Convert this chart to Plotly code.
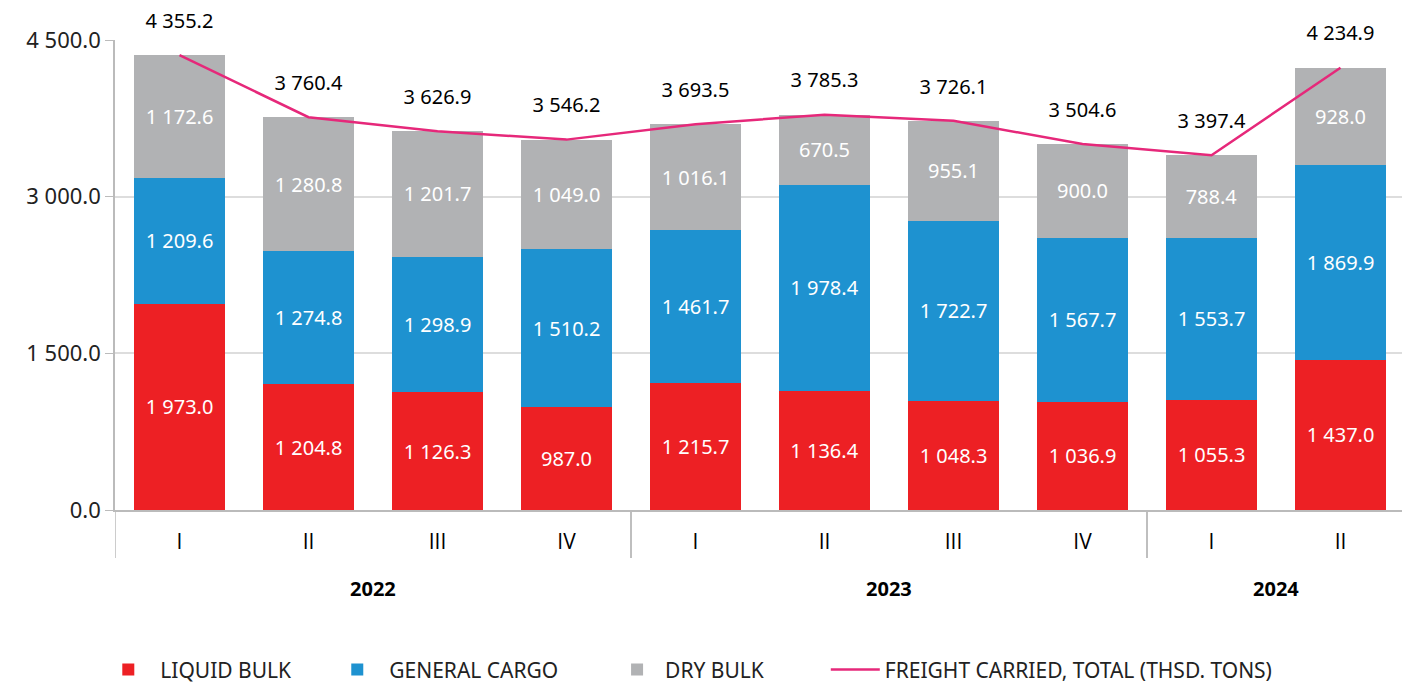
import plotly.graph_objects as go

years = ["2022", "2022", "2022", "2022", "2023", "2023", "2023", "2023", "2024", "2024"]
quarters = ["I", "II", "III", "IV", "I", "II", "III", "IV", "I", "II"]
liquid_bulk = [1973.0, 1204.8, 1126.3, 987.0, 1215.7, 1136.4, 1048.3, 1036.9, 1055.3, 1437.0]
general_cargo = [1209.6, 1274.8, 1298.9, 1510.2, 1461.7, 1978.4, 1722.7, 1567.7, 1553.7, 1869.9]
dry_bulk = [1172.6, 1280.8, 1201.7, 1049.0, 1016.1, 670.5, 955.1, 900.0, 788.4, 928.0]
total = [4355.2, 3760.4, 3626.9, 3546.2, 3693.5, 3785.3, 3726.1, 3504.6, 3397.4, 4234.9]
y_ticks = [0, 1500, 3000, 4500]

FONT = "Noto Sans"
TFONT = "Open Sans"
cats = [f"{y} {q}" for y, q in zip(years, quarters)]

fig = go.Figure()
series = [("LIQUID BULK", liquid_bulk, "#ED2024", "legend"),
          ("GENERAL CARGO", general_cargo, "#1E92D0", "legend2"),
          ("DRY BULK", dry_bulk, "#B1B2B4", "legend3")]
for name, vals, col, lg in series:
    fig.add_trace(go.Bar(
        x=cats, y=vals, name=name, legend=lg,
        marker=dict(color=col, line=dict(width=0)),
        texttemplate="%{y:,.1f}", textposition="inside", insidetextanchor="middle",
        textangle=0, constraintext="none",
        textfont=dict(color="white", size=20, family=FONT),
    ))

fig.add_trace(go.Scatter(
    x=cats, y=total, name="FREIGHT CARRIED, TOTAL (THSD. TONS)", mode="lines",
    legend="legend4", line=dict(color="#E6287A", width=2.5),
))
fig.add_trace(go.Scatter(
    x=cats, y=total, mode="markers+text", showlegend=False, hoverinfo="skip",
    marker=dict(size=34, color="rgba(0,0,0,0)"), cliponaxis=False,
    texttemplate="%{y:,.1f}", textposition="top center",
    textfont=dict(color="black", size=20, family=FONT),
))

# year group labels and dividers
groups = {}
for i, y in enumerate(years):
    groups.setdefault(y, []).append(i)
annotations = []
shapes = []
for y, idx in groups.items():
    annotations.append(dict(x=(idx[0] + idx[-1]) / 2, y=-0.167, xref="x", yref="paper",
                            text=f"<b>{y}</b>", showarrow=False, yanchor="middle",
                            font=dict(size=20, family=FONT, color="black")))
    for b in (idx[0] - 0.5, idx[-1] + 0.5):
        shapes.append(dict(type="line", xref="x", yref="paper", x0=b, x1=b, y0=0, y1=-0.102,
                           line=dict(color="#BBBBBB", width=1.5)))

leg_common = dict(orientation="h", yanchor="middle", y=-0.34, xanchor="left",
                  font=dict(size=21, color="#222222", family=FONT), bgcolor="rgba(0,0,0,0)")

# page body has an 8px default margin; figure sized to fit the window
fig.update_layout(
    width=1402, height=676,
    barmode="stack", bargap=0.29,
    separators=". ",
    plot_bgcolor="white", paper_bgcolor="white",
    margin=dict(l=107, r=5, t=32, b=174, autoexpand=False),
    font=dict(family=FONT, size=20, color="black"),
    showlegend=True,
    legend=dict(leg_common, x=-0.0145, itemwidth=54),
    legend2=dict(leg_common, x=0.163, itemwidth=54),
    legend3=dict(leg_common, x=0.383, itemwidth=46),
    legend4=dict(leg_common, x=0.551, itemwidth=49),
    annotations=annotations,
    shapes=shapes,
    xaxis=dict(type="category", range=[-0.5, len(cats) - 0.5], showline=True,
               linecolor="#BBBBBB", linewidth=1.5, ticks="", automargin=False,
               tickvals=cats, ticktext=quarters, ticklabelstandoff=12,
               tickfont=dict(size=21, family=TFONT, color="black")),
    yaxis=dict(range=[0, 4500], tickvals=y_ticks, tickformat=",.1f", automargin=False,
               showgrid=True, gridcolor="#DDDDDD", gridwidth=1.5,
               showline=True, linecolor="#BBBBBB", linewidth=1.5,
               ticks="outside", ticklen=8, tickcolor="#BBBBBB",
               tickfont=dict(size=22, family=FONT, color="#222222"), zeroline=False),
)

fig.write_html("out.html")
